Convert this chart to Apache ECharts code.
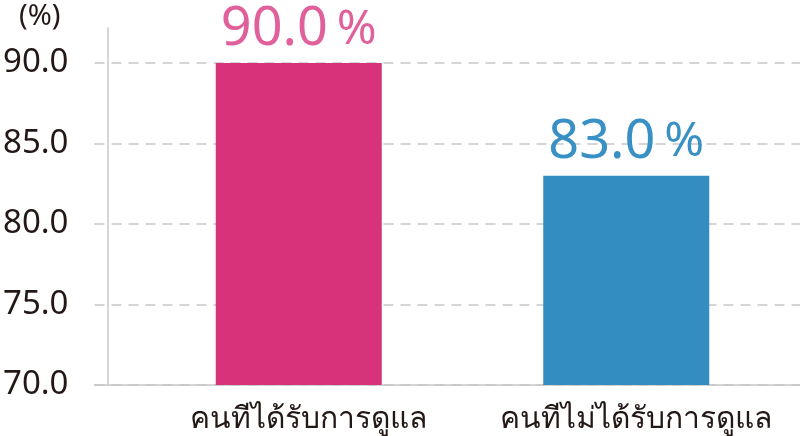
<!DOCTYPE html>
<html>
<head>
<meta charset="utf-8">
<script src="https://cdn.jsdelivr.net/npm/echarts@6/dist/echarts.min.js"></script>
<style>html,body{margin:0;padding:0;background:#fff}#c{width:800px;height:436px}</style>
</head>
<body>
<div id="c"></div>
<script>
const categories = ['คนทีได้รับการดูแล', 'คนทีไม่ได้รับการดูแล'];
const values = [90.0, 83.0];
const barColors = ['#d6337a', '#338dc1'];
const labelColors = ['#e0609b', '#3890c4'];
const yMin = 70, yMax = 90, yInterval = 5;
const unitLabel = '(%)';

const chart = echarts.init(document.getElementById('c'), null, {renderer: 'canvas'});
const FONT = '"Noto Sans", "DejaVu Sans", sans-serif';
const TXT = '#231815';
const LINE = '#c8c8c8';

chart.setOption({
  animation: false,
  title: {text: unitLabel, left: 14, top: -3, textStyle: {fontFamily: FONT, fontSize: 29, fontWeight: 'normal', color: TXT}},
  grid: [
    {left: 90, right: 0, top: 63, bottom: 51, containLabel: false},
    {left: 135, right: 10, top: 28, bottom: 51, containLabel: false}
  ],
  xAxis: [
    {gridIndex: 0, type: 'category', data: categories,
     axisLine: {show: true, lineStyle: {color: LINE, width: 1.5}},
     axisTick: {show: false}, axisLabel: {show: false}, splitLine: {show: false}},
    {gridIndex: 1, type: 'category', data: categories,
     axisLine: {show: false}, axisTick: {show: false},
     axisLabel: {show: true, interval: 0, hideOverlap: false, margin: 19, fontFamily: FONT, fontSize: 30, color: TXT, padding: [0, 0, 0, 20]}}
  ],
  yAxis: [
    {gridIndex: 0, type: 'value', min: yMin, max: yMax, interval: yInterval,
     axisLine: {show: false}, axisTick: {show: false},
     axisLabel: {margin: 26, fontFamily: FONT, fontSize: 33, color: TXT, formatter: v => v.toFixed(1),
       showMinLabel: true, showMaxLabel: true},
     splitLine: {show: true, lineStyle: {color: LINE, width: 1.5, type: [10, 7]}}},
    {gridIndex: 1, type: 'value', min: yMin, max: yMin + (yMax - yMin) * 357 / 322,
     offset: 27,
     axisLine: {show: true, lineStyle: {color: LINE, width: 1.5}},
     axisTick: {show: false}, axisLabel: {show: false}, splitLine: {show: false}}
  ],
  series: [{
    type: 'bar', xAxisIndex: 1, yAxisIndex: 1,
    barWidth: 166,
    data: values.map((v, i) => ({
      value: v,
      itemStyle: {color: barColors[i]},
      label: {
        show: true, position: 'top', distance: 4,
        formatter: '{a|' + v.toFixed(1) + '}{b|%}',
        rich: {
          a: {fontFamily: FONT, fontSize: 54, lineHeight: 58, color: labelColors[i]},
          b: {fontFamily: FONT, fontSize: 48, lineHeight: 58, color: labelColors[i], padding: [0, 0, 0, 9]}
        }
      }
    }))
  }]
});
</script>
</body>
</html>
